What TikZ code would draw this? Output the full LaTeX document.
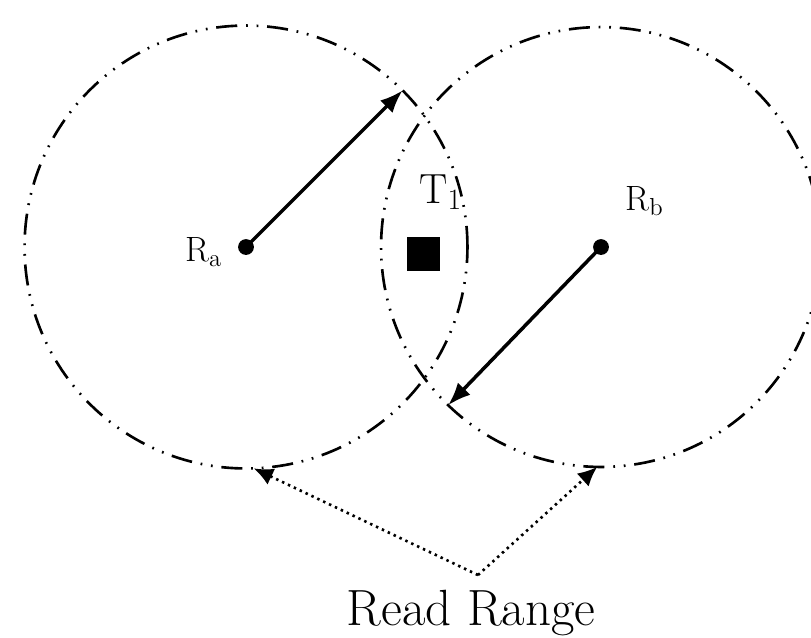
\documentclass[tikz,border=0pt]{standalone}
\usepackage{fontspec}
\usepackage{amsmath}
\usetikzlibrary{arrows.meta}

\tikzset{
  readzone/.style={draw, circle, inner sep=0pt, outer sep=0pt, line width=1.5pt,
    dash pattern=on 12pt off 5pt on 1pt off 5pt on 1pt off 5pt},
  reach/.style={-{Latex[length=13pt,width=10pt]}, line width=2pt},
  pointer/.style={-{Latex[length=11pt,width=10pt]}, line width=1.5pt,
    dash pattern=on 1.4pt off 2.3pt},
  lbl/.style={font=\fontsize{20}{24}\selectfont, inner sep=0pt},
}

\begin{document}
\begin{tikzpicture}[x=0.02cm, y=-0.02cm]
  \useasboundingbox (0,0) rectangle (811,637);
  \coordinate (Ra) at (246,247); \coordinate (Rb) at (601,247);
  \node[readzone, minimum size=8.86cm] (ca) at (Ra) {};
  \node[readzone, minimum size=8.8cm] (cb) at (Rb) {};
  \fill (Ra) circle[radius=4.5pt];
  \fill (Rb) circle[radius=4.5pt];
  \draw[reach] (Ra) -- (ca.45);
  \draw[reach] (Rb) -- (cb.226.5);
  \node[fill, minimum size=0.67cm, inner sep=0pt] (tag) at (423.5,254) {};
  \node[lbl, anchor=base west] (la) at (185,261) {R\textsubscript{a}};
  \node[lbl, anchor=base west] (lb) at (625,210) {R\textsubscript{b}};
  \node[font=\fontsize{24}{28}\selectfont, inner sep=0pt, anchor=base west] (lt) at (419,203) {T\textsubscript{1}};
  \node[font=\fontsize{29}{34}\selectfont, inner sep=0pt, anchor=base] (rr) at (471,625) {Read Range};
  \coordinate (apex) at (478,575);
  \draw[pointer] (apex) -- (ca.-88.5);
  \draw[pointer] (apex) -- (cb.-91.5);
\end{tikzpicture}
\end{document}
